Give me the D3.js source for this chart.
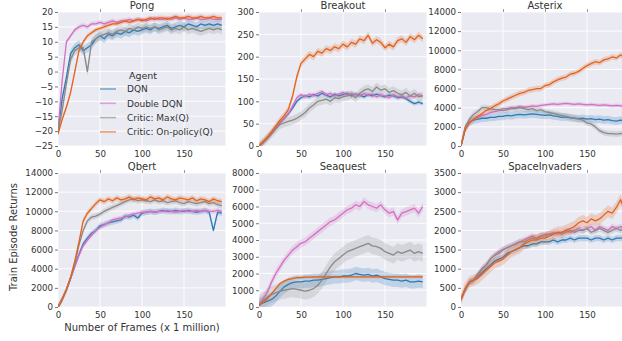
<!DOCTYPE html>
<html>
<head>
<meta charset="utf-8">
<script src="https://cdn.jsdelivr.net/npm/d3@7"></script>
<style>
body { margin: 0; background: #fff; }
text { font-family: "DejaVu Sans", sans-serif; }
</style>
</head>
<body>
<svg id="chart" width="622" height="341"></svg>
<script>
// frames in millions, one reading every 5M
const frames = [0,5,10,15,20,25,30,35,40,45,50,55,60,65,70,75,80,85,90,95,100,105,110,115,120,125,130,135,140,145,150,155,160,165,170,175,180,185,190,195]

const agents = ['DQN', 'Double DQN', 'Critic: Max(Q)', 'Critic: On-policy(Q)']
const agentColors = ['#2b79b5', '#d470c4', '#8a8a8a', '#e4621b']

const games = ['Pong', 'Breakout', 'Asterix', 'Qbert', 'Seaquest', 'SpaceInvaders']
const yMin = [-25, 0, 0, 0, 0, 0]
const yMax = [20, 300, 14000, 14000, 8000, 3500]
const yStep = [5, 50, 2000, 2000, 1000, 500]

// mean returns
const pongDQN = [-20,-9,-2,6,8,9,7,8,9,11,12,11,12.5,12,13,12.5,13.5,13,14,13.5,14,14.5,14,15,14.5,15,15.5,14.5,15,15.5,15,16,15.5,15,16,15.5,16,15.5,16,15.5]
const pongDouble = [-20,-3,10,12,14,15,15.5,15,16,16,16.5,16,16.5,17,16.5,17,17,17.5,17,17.5,17.5,17,17.5,18,17.5,17.5,18,17.5,18,17.5,18,17.5,17.5,18,17.5,17.5,18,17.5,17.5,17.5]
const pongMax = [-20,-13,-4,4,7,8,8,0,10,11,12,12.5,13,12.5,13.5,14,13.5,14.5,14,15,14.5,15,14.5,15,14,14.5,15,14,14.5,14,15,14,14.5,14,13.5,14,14.5,14,14.5,14]
const pongOn = [-21,-16,-12,-7,0,7,10,12,13,14,14.5,15,15.5,16,16,16.5,17,16.5,17,17.5,17,17.5,18,17.5,18,18,17.5,18,18.5,18,18,18.5,18,18,18.5,18,18,18.5,18,18]

const breakoutDQN = [0,8,18,28,40,52,62,72,85,100,108,112,110,115,112,118,114,110,116,112,115,118,112,116,114,110,115,112,116,113,110,114,112,108,110,106,100,95,98,95]
const breakoutDouble = [0,8,18,28,40,52,62,72,90,108,115,110,116,112,118,122,115,118,112,116,120,114,118,115,112,118,114,116,110,114,112,108,115,110,112,108,112,110,115,112]
const breakoutMax = [0,8,18,28,38,48,52,55,58,62,68,75,85,92,100,102,105,100,108,106,110,112,115,108,118,125,128,122,132,125,128,120,124,118,115,120,112,118,110,112]
const breakoutOn = [0,10,20,32,45,58,68,82,112,155,185,195,205,200,212,208,218,214,222,218,228,222,232,228,240,236,248,230,238,232,220,228,222,236,240,232,245,238,248,240]

const asterixDQN = [0,1800,2500,2700,2800,2900,2900,3000,3000,3100,3100,3200,3150,3250,3300,3250,3300,3350,3300,3250,3200,3250,3150,3100,3000,3050,2950,2900,2850,2900,2800,2850,2750,2800,2700,2750,2650,2600,2700,2600]
const asterixDouble = [0,1900,2500,2800,3000,3200,3300,3500,3600,3700,3900,3900,4000,4000,4100,4050,4100,4200,4150,4250,4300,4350,4400,4350,4400,4450,4400,4350,4400,4350,4300,4350,4300,4250,4300,4250,4200,4250,4200,4200]
const asterixMax = [0,2000,2800,3300,3600,4000,4000,3900,3800,3800,3700,3800,3900,3900,4000,3900,3800,3900,3700,3800,3600,3500,3400,3300,3200,3100,3000,2900,2800,2700,2400,2300,2000,1600,1400,1300,1300,1250,1300,1300]
const asterixOn = [0,1700,2400,2800,3100,3400,3700,3900,4200,4400,4700,4900,5100,5300,5500,5600,5800,5900,6000,6000,6300,6400,6700,6900,7100,7200,7500,7600,7800,8100,8400,8600,8800,8700,9000,9100,9300,9200,9500,9300]

const qbertDQN = [0,800,1800,3000,4300,5500,6600,7200,7700,8000,8500,8600,8800,8900,9000,9100,9500,9400,9600,9300,9800,9900,10000,9900,10000,10100,10000,10000,10100,10000,10000,10100,10000,9900,10000,10100,9900,8000,9900,9800]
const qbertDouble = [0,800,1800,3000,4200,5400,6400,7000,7500,8000,8300,8600,8800,9100,9200,9300,9400,9600,9700,9800,9900,9900,10000,9900,10000,10000,10100,10000,9900,10000,10100,10000,10000,10100,10000,10100,10000,10000,10100,10000]
const qbertMax = [0,800,1800,3000,4500,6500,8000,9000,9400,9500,9700,10000,10200,10400,10600,10800,11000,11200,11300,11100,11200,11100,11000,11200,11000,11100,10900,11000,11100,10900,10800,11000,10900,10800,10900,11000,10800,10900,10700,10600]
const qbertOn = [0,800,1800,3100,4800,6800,9000,9800,10300,10800,11200,11000,11300,11100,11400,11200,11300,11500,11200,11400,11300,11200,11500,11300,11400,11200,11500,11300,11200,11400,11300,11200,11400,11100,11300,11200,11000,11300,11100,11000]

const seaquestDQN = [100,250,350,450,650,950,1200,1350,1450,1500,1500,1550,1550,1600,1600,1650,1700,1750,1800,1800,1850,1850,1900,2000,1950,1900,1950,1850,1900,1800,1700,1650,1600,1600,1550,1600,1500,1500,1550,1500]
const seaquestDouble = [200,500,900,1500,2000,2400,2800,3100,3400,3600,3800,3900,4100,4300,4500,4700,4900,5100,5200,5400,5600,5800,5900,6100,6000,6300,6100,6000,5900,6100,5800,5600,5700,5200,5600,5700,5800,5900,5600,6000]
const seaquestMax = [150,400,600,750,850,950,1000,1050,1100,1050,1000,950,1000,1100,1300,1600,2000,2400,2700,2900,3100,3300,3400,3500,3600,3700,3800,3650,3600,3500,3300,3200,3100,3300,3200,3300,3400,3200,3300,3200]
const seaquestOn = [100,300,500,800,1100,1400,1550,1650,1700,1750,1750,1780,1780,1790,1800,1800,1800,1800,1800,1800,1800,1800,1800,1800,1800,1800,1800,1800,1800,1800,1800,1800,1800,1800,1800,1800,1800,1800,1800,1800]

const invadersDQN = [200,450,650,700,800,900,1000,1100,1200,1250,1300,1400,1450,1500,1550,1600,1600,1650,1650,1700,1700,1700,1750,1700,1750,1750,1800,1750,1800,1800,1800,1750,1800,1800,1750,1800,1750,1800,1800,1800]
const invadersDouble = [200,450,650,700,850,1000,1100,1250,1350,1450,1500,1550,1600,1650,1700,1750,1800,1850,1800,1850,1900,1900,1950,1900,1950,2000,1950,2000,2050,2000,2050,2100,2000,2100,2050,2000,2100,2050,2100,2050]
const invadersMax = [200,450,650,700,850,1000,1100,1250,1350,1400,1500,1550,1600,1650,1700,1700,1750,1800,1800,1850,1850,1900,1900,1950,1900,1950,2000,1950,2000,2000,2050,1950,2000,2050,2000,1950,2000,2050,2000,2050]
const invadersOn = [200,500,650,700,750,850,950,1050,1150,1200,1250,1350,1450,1500,1550,1650,1700,1750,1750,1800,1800,1850,1900,1950,1950,2000,2050,2100,2200,2250,2200,2300,2250,2300,2400,2500,2450,2600,2800,2500]

// half width of the shaded band, per game and agent
const pongSpread = [1.5, 0.8, 1.5, 0.8]
const breakoutSpread = [5, 5, 10, 8]
const asterixSpread = [400, 200, 300, 300]
const qbertSpread = [300, 250, 300, 300]
const seaquestSpread = [400, 250, 500, 80]
const invadersSpread = [80, 80, 80, 150]

const series = [
	[pongDQN, pongDouble, pongMax, pongOn],
	[breakoutDQN, breakoutDouble, breakoutMax, breakoutOn],
	[asterixDQN, asterixDouble, asterixMax, asterixOn],
	[qbertDQN, qbertDouble, qbertMax, qbertOn],
	[seaquestDQN, seaquestDouble, seaquestMax, seaquestOn],
	[invadersDQN, invadersDouble, invadersMax, invadersOn]
]
const spreads = [pongSpread, breakoutSpread, asterixSpread, qbertSpread, seaquestSpread, invadersSpread]

// layout
const colLeft = [58, 259, 461]
const rowTop = [12, 173]
const panelW = 168
const panelH = 134
const textColor = '#333'

const svg = d3.select('#chart')

function draw_panel(i) {
	const left = colLeft[i % 3]
	const top = rowTop[Math.floor(i / 3)]

	const x = d3.scaleLinear().domain([0, 200]).range([left, left + panelW])
	const y = d3.scaleLinear().domain([yMin[i], yMax[i]]).range([top + panelH, top])
	const yTicks = d3.range(yMin[i], yMax[i] + 1, yStep[i])
	const xTicks = [0, 50, 100, 150]

	const g = svg.append('g')

	g.append('rect')
		.attr('x', left).attr('y', top)
		.attr('width', panelW).attr('height', panelH)
		.attr('fill', '#eaeaf2')

	// grid
	g.selectAll('.vgrid')
		.data(xTicks.concat([200]))
		.join('line')
		.attr('x1', d => x(d)).attr('x2', d => x(d))
		.attr('y1', top).attr('y2', top + panelH)
		.attr('stroke', '#fff').attr('stroke-width', 0.9)
	g.selectAll('.hgrid')
		.data(yTicks)
		.join('line')
		.attr('x1', left).attr('x2', left + panelW)
		.attr('y1', d => y(d)).attr('y2', d => y(d))
		.attr('stroke', '#fff').attr('stroke-width', 0.9)

	// axes, plain integers like matplotlib
	const yAxis = g.append('g')
		.attr('transform', 'translate(' + left + ',0)')
		.call(d3.axisLeft(y).tickValues(yTicks).tickSize(3).tickPadding(2).tickFormat(d3.format('d')))
	const xAxis = g.append('g')
		.attr('transform', 'translate(0,' + (top + panelH) + ')')
		.call(d3.axisBottom(x).tickValues(xTicks).tickSize(0).tickPadding(5).tickFormat(d3.format('d')))
	g.append('g')
		.attr('transform', 'translate(0,' + top + ')')
		.call(d3.axisTop(x).tickValues(xTicks.slice(1)).tickSize(3).tickFormat(''))
		.call(a => a.select('.domain').remove())
		.selectAll('line').attr('stroke', '#999')
	for (const a of [yAxis, xAxis]) {
		a.select('.domain').remove()
		a.selectAll('line').attr('stroke', '#777')
		a.selectAll('text').attr('fill', textColor).style('font-size', '8.7px')
	}

	// title
	g.append('text')
		.attr('x', left + panelW / 2).attr('y', top - 3.5)
		.attr('text-anchor', 'middle')
		.attr('fill', textColor)
		.style('font-size', '10px')
		.text(games[i])

	// lines and bands
	const clipId = 'clip' + i
	g.append('clipPath').attr('id', clipId)
		.append('rect')
		.attr('x', left).attr('y', top)
		.attr('width', panelW).attr('height', panelH)

	const plot = g.append('g').attr('clip-path', 'url(#' + clipId + ')')

	series[i].forEach((vals, k) => {
		const s = spreads[i][k]
		const pts = frames.map((f, j) => ({ f: f, v: vals[j] }))
		plot.append('path')
			.datum(pts)
			.attr('fill', agentColors[k])
			.attr('fill-opacity', 0.22)
			.attr('d', d3.area()
				.x(d => x(d.f))
				.y0(d => y(d.v - s))
				.y1(d => y(d.v + s)))
		plot.append('path')
			.datum(pts)
			.attr('fill', 'none')
			.attr('stroke', agentColors[k])
			.attr('stroke-width', 1.3)
			.attr('stroke-linejoin', 'round')
			.attr('d', d3.line()
				.x(d => x(d.f))
				.y(d => y(d.v)))
	})
}

for (let i = 0; i < games.length; i++) {
	draw_panel(i)
}

// legend inside the Pong panel
const legend = svg.append('g')
legend.append('text')
	.attr('x', 143).attr('y', 78.5)
	.attr('text-anchor', 'middle')
	.attr('fill', textColor)
	.style('font-size', '9.5px')
	.text('Agent')
agents.forEach((a, k) => {
	const ly = 89 + k * 14.3
	legend.append('line')
		.attr('x1', 100).attr('x2', 116)
		.attr('y1', ly).attr('y2', ly)
		.attr('stroke', agentColors[k])
		.attr('stroke-width', 1.6)
		.attr('stroke-opacity', 0.6)
	legend.append('text')
		.attr('x', 127).attr('y', ly + 3.2)
		.attr('fill', textColor)
		.style('font-size', '9px')
		.text(a)
})

// axis labels
svg.append('text')
	.attr('transform', 'translate(17,237) rotate(-90)')
	.attr('text-anchor', 'middle')
	.attr('fill', textColor)
	.style('font-size', '10px')
	.text('Train Episode Returns')
svg.append('text')
	.attr('x', 142).attr('y', 331)
	.attr('text-anchor', 'middle')
	.attr('fill', textColor)
	.style('font-size', '10px')
	.text('Number of Frames (x 1 million)')
</script>
</body>
</html>
